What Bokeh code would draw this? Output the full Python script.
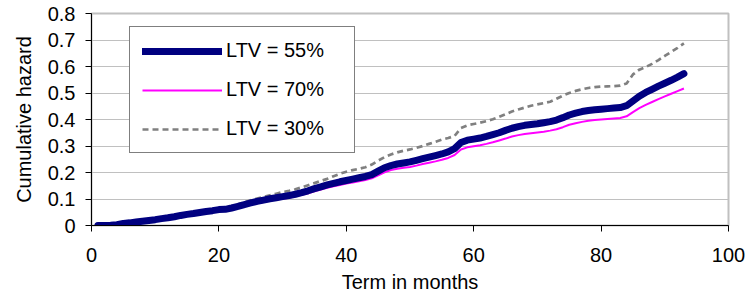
from bokeh.plotting import figure
from bokeh.models import Range1d, FixedTicker, CustomJSTickFormatter, Legend, LegendItem
from bokeh.embed import file_html
from bokeh.resources import INLINE

months = list(range(1, 94))

ltv55 = [0.000, 0.000, 0.001, 0.003, 0.008, 0.010, 0.013, 0.016, 0.019, 0.022,
         0.026, 0.029, 0.033, 0.038, 0.042, 0.045, 0.049, 0.053, 0.056, 0.060,
         0.061, 0.066, 0.072, 0.079, 0.085, 0.091, 0.096, 0.101, 0.105, 0.109,
         0.113, 0.118, 0.124, 0.131, 0.139, 0.146, 0.153, 0.159, 0.165, 0.170,
         0.175, 0.180, 0.185, 0.192, 0.205, 0.218, 0.226, 0.232, 0.236, 0.240,
         0.246, 0.252, 0.258, 0.264, 0.270, 0.278, 0.290, 0.313, 0.322, 0.326,
         0.330, 0.336, 0.343, 0.350, 0.359, 0.367, 0.373, 0.378, 0.381, 0.384,
         0.388, 0.392, 0.398, 0.407, 0.417, 0.424, 0.430, 0.434, 0.437, 0.439,
         0.441, 0.443, 0.445, 0.452, 0.470, 0.488, 0.502, 0.514, 0.526, 0.537,
         0.548, 0.560, 0.573]

ltv70 = [0.000, 0.000, 0.000, 0.002, 0.006, 0.008, 0.011, 0.014, 0.017, 0.020,
         0.023, 0.026, 0.030, 0.034, 0.038, 0.041, 0.045, 0.049, 0.052, 0.055,
         0.056, 0.061, 0.067, 0.073, 0.079, 0.084, 0.089, 0.094, 0.098, 0.101,
         0.105, 0.110, 0.116, 0.122, 0.129, 0.136, 0.142, 0.148, 0.153, 0.158,
         0.162, 0.167, 0.172, 0.178, 0.189, 0.201, 0.209, 0.214, 0.218, 0.221,
         0.226, 0.232, 0.237, 0.242, 0.248, 0.255, 0.266, 0.287, 0.295, 0.299,
         0.303, 0.308, 0.314, 0.321, 0.328, 0.336, 0.341, 0.345, 0.348, 0.351,
         0.354, 0.358, 0.363, 0.371, 0.380, 0.386, 0.391, 0.395, 0.398, 0.400,
         0.402, 0.404, 0.406, 0.412, 0.428, 0.443, 0.455, 0.466, 0.477, 0.487,
         0.497, 0.507, 0.517]

ltv30 = [0.000, 0.001, 0.002, 0.004, 0.008, 0.011, 0.014, 0.017, 0.020, 0.023,
         0.027, 0.031, 0.035, 0.040, 0.044, 0.048, 0.052, 0.056, 0.060, 0.064,
         0.067, 0.073, 0.080, 0.088, 0.095, 0.102, 0.108, 0.114, 0.120, 0.126,
         0.131, 0.137, 0.144, 0.152, 0.160, 0.168, 0.176, 0.186, 0.195, 0.203,
         0.209, 0.214, 0.220, 0.230, 0.245, 0.258, 0.268, 0.276, 0.282, 0.287,
         0.293, 0.300, 0.308, 0.316, 0.324, 0.330, 0.338, 0.368, 0.378, 0.383,
         0.388, 0.394, 0.401, 0.410, 0.420, 0.430, 0.438, 0.445, 0.452, 0.457,
         0.462, 0.467, 0.478, 0.490, 0.500, 0.508, 0.514, 0.519, 0.522, 0.524,
         0.525, 0.526, 0.528, 0.536, 0.570, 0.588, 0.598, 0.610, 0.624, 0.640,
         0.655, 0.670, 0.687]

x_ticks = [0, 20, 40, 60, 80, 100]
y_ticks = [0, 0.1, 0.2, 0.3, 0.4, 0.5, 0.6, 0.7, 0.8]
series_labels = ["LTV = 55%", "LTV = 70%", "LTV = 30%"]

FONT = "Liberation Sans"

p = figure(width=748, height=297, output_backend="svg", toolbar_location=None,
           x_range=Range1d(0, 100), y_range=Range1d(0, 0.8),
           min_border_left=91, min_border_right=20, min_border_top=13, min_border_bottom=72)

p.background_fill_color = "white"
p.border_fill_color = "white"
p.outline_line_color = "#c0c0c0"
p.outline_line_width = 2

p.xgrid.grid_line_color = None
p.ygrid.grid_line_color = "#c0c0c0"
p.ygrid.grid_line_width = 1

p.xaxis.ticker = FixedTicker(ticks=x_ticks)
p.yaxis.ticker = FixedTicker(ticks=y_ticks)
p.yaxis.formatter = CustomJSTickFormatter(code="return tick.toFixed(1).replace(/\\.0$/, '');")

for ax in (p.xaxis[0], p.yaxis[0]):
    ax.axis_line_color = "black"
    ax.axis_line_width = 1
    ax.major_tick_line_color = "black"
    ax.major_tick_out = 6
    ax.major_tick_in = 0
    ax.minor_tick_line_color = None
    ax.major_label_text_font = FONT
    ax.major_label_text_font_size = "20px"
    ax.major_label_text_color = "black"
    ax.axis_label_text_font = FONT
    ax.axis_label_text_font_size = "20px"
    ax.axis_label_text_font_style = "normal"
    ax.axis_label_text_color = "black"

p.xaxis.axis_label = "Term in months"
p.yaxis.axis_label = "Cumulative hazard"
p.xaxis.major_label_standoff = 16
p.yaxis.major_label_standoff = 10
p.xaxis.axis_label_standoff = 6
p.yaxis.axis_label_standoff = 10

r30 = p.line(months, ltv30, line_color="#808080", line_width=2.7, line_dash="6 4")
r70 = p.line(months, ltv70, line_color="#ff00ff", line_width=2)
r55 = p.line(months, ltv55, line_color="#000080", line_width=7, line_cap="round", line_join="round")

legend = Legend(items=[LegendItem(label=series_labels[0], renderers=[r55]),
                       LegendItem(label=series_labels[1], renderers=[r70]),
                       LegendItem(label=series_labels[2], renderers=[r30])],
                location=(38, 72))
legend.margin = 0
legend.padding = 12
legend.spacing = 16
legend.glyph_width = 80
legend.glyph_height = 18
legend.label_height = 18
legend.label_width = 116
legend.label_standoff = 4
legend.label_text_font = FONT
legend.label_text_font_size = "20px"
legend.label_text_color = "black"
legend.border_line_color = "black"
legend.border_line_width = 1
legend.background_fill_color = "white"
legend.background_fill_alpha = 1
p.add_layout(legend)

open("out.html", "w").write(file_html(p, INLINE))
